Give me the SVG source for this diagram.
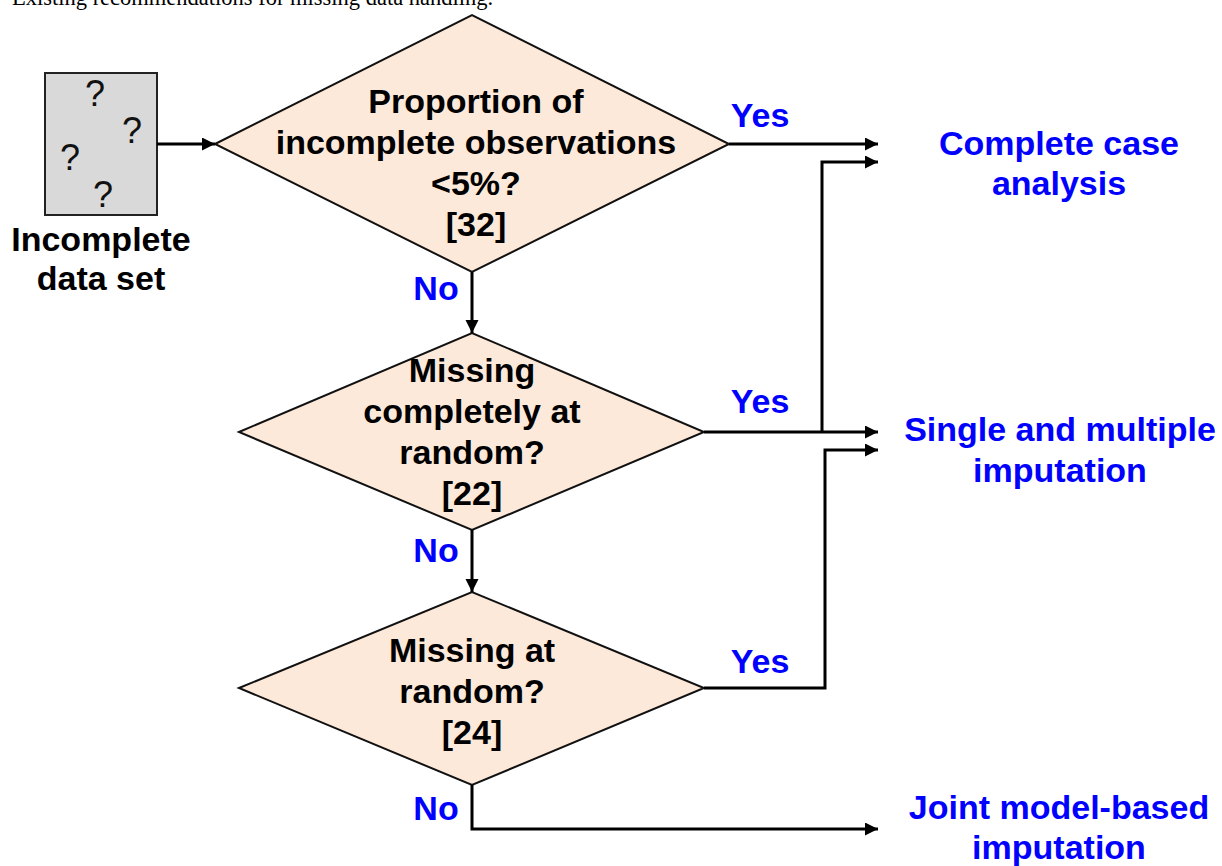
<svg xmlns="http://www.w3.org/2000/svg" width="1222" height="866" viewBox="0 0 1222 866">
  <style>
    .t { font-family: "Liberation Sans", Arial, sans-serif; font-weight: bold; font-size: 34px; text-anchor: middle; fill: #000; }
    .b { fill: #0000ff; }
    .q { font-family: "Liberation Sans", Arial, sans-serif; font-size: 36px; text-anchor: middle; fill: #111; }
    .cap { font-family: "Liberation Serif", "Times New Roman", serif; font-size: 22.5px; fill: #000; }
    .dia { fill: #fde9d9; stroke: #111; stroke-width: 2; }
    .box { fill: #d9d9d9; stroke: #222; stroke-width: 2; }
    .c { fill: none; stroke: #000; stroke-width: 3; }
  </style>
  <defs>
    <marker id="ah" markerUnits="userSpaceOnUse" markerWidth="14" markerHeight="14" refX="13" refY="6.5" orient="auto">
      <path d="M0,0 L13,6.5 L0,13 z" fill="#000"/>
    </marker>
  </defs>
  <rect width="1222" height="866" fill="#fff"/>
  <text class="cap" x="12" y="5">Existing recommendations for missing data handling.</text>

  <g id="dataset">
    <rect class="box" x="45" y="73" width="112" height="142"/>
    <text class="q" x="95" y="106">?</text>
    <text class="q" x="132" y="143">?</text>
    <text class="q" x="70" y="170">?</text>
    <text class="q" x="103" y="207">?</text>
    <text class="t" x="101" y="251">Incomplete</text>
    <text class="t" x="101" y="290">data set</text>
  </g>

  <g id="q1">
    <polygon class="dia" points="215,144 472,15 729,144 472,272"/>
    <text class="t" x="476" y="113">Proportion of</text>
    <text class="t" x="476" y="154">incomplete observations</text>
    <text class="t" x="476" y="195">&lt;5%?</text>
    <text class="t" x="476" y="236">[32]</text>
  </g>

  <g id="q2">
    <polygon class="dia" points="239,432 472,333 704,432 472,530"/>
    <text class="t" x="472" y="382">Missing</text>
    <text class="t" x="472" y="423">completely at</text>
    <text class="t" x="472" y="464">random?</text>
    <text class="t" x="472" y="505">[22]</text>
  </g>

  <g id="q3">
    <polygon class="dia" points="239,688 472,592 704,688 472,785"/>
    <text class="t" x="472" y="662">Missing at</text>
    <text class="t" x="472" y="703">random?</text>
    <text class="t" x="472" y="744">[24]</text>
  </g>

  <g id="out-cca">
    <text class="t b" x="1059" y="155">Complete case</text>
    <text class="t b" x="1059" y="195">analysis</text>
  </g>
  <g id="out-imp">
    <text class="t b" x="1060" y="441">Single and multiple</text>
    <text class="t b" x="1060" y="482">imputation</text>
  </g>
  <g id="out-joint">
    <text class="t b" x="1059" y="819">Joint model-based</text>
    <text class="t b" x="1059" y="859">imputation</text>
  </g>

  <g id="connectors">
    <path class="c" d="M157,144 H215" marker-end="url(#ah)"/>
    <path class="c" d="M729,144 H878" marker-end="url(#ah)"/>
    <path class="c" d="M472,272 V333" marker-end="url(#ah)"/>
    <path class="c" d="M704,432 H878" marker-end="url(#ah)"/>
    <path class="c" d="M822,432 V162 H878" marker-end="url(#ah)"/>
    <path class="c" d="M472,530 V592" marker-end="url(#ah)"/>
    <path class="c" d="M704,688 H825 V450 H878" marker-end="url(#ah)"/>
    <path class="c" d="M472,785 V829 H878" marker-end="url(#ah)"/>
    <text class="t b" x="760" y="127">Yes</text>
    <text class="t b" x="760" y="413">Yes</text>
    <text class="t b" x="760" y="673">Yes</text>
    <text class="t b" x="436" y="300">No</text>
    <text class="t b" x="436" y="562">No</text>
    <text class="t b" x="436" y="820">No</text>
  </g>
</svg>
